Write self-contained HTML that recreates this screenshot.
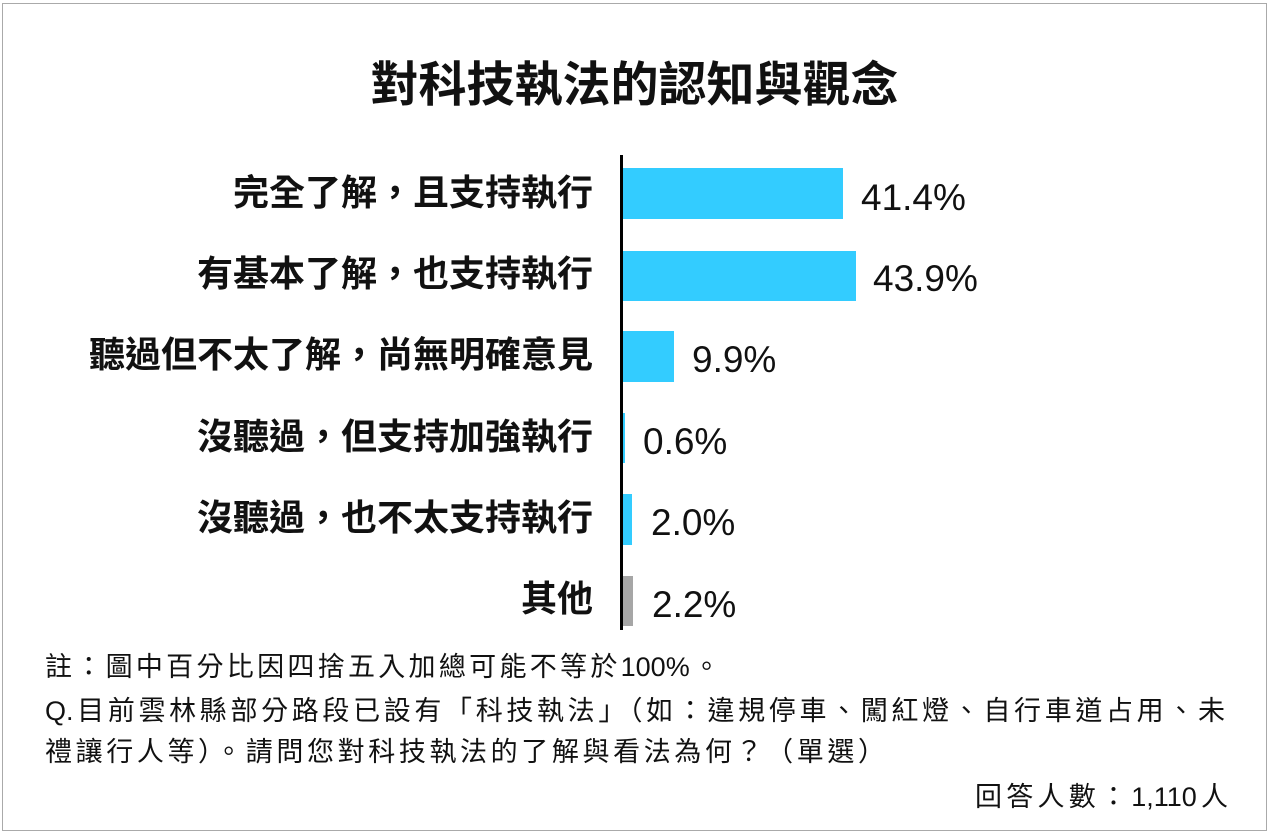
<!DOCTYPE html>
<html><head><meta charset="utf-8"><style>
body{margin:0;width:1269px;height:834px;background:#fff;position:relative;overflow:hidden;font-family:"Liberation Sans","Noto Sans CJK TC",sans-serif;color:#111}
.b{position:absolute}
.lab{position:absolute;right:676px;font-size:36px;font-weight:bold;white-space:nowrap;line-height:1}
.val{position:absolute;font-size:37px;line-height:1}
.bar{position:absolute;left:622px;background:#33ccff}
.n{position:absolute;font-size:27px;white-space:nowrap;line-height:1}
.j{text-align:justify;text-align-last:justify;white-space:normal}
</style></head><body>
<div class="b" style="left:2px;top:3px;width:1263px;height:826px;border:1px solid #aaa"></div>
<div class="b" style="left:0;width:1269px;top:62px;text-align:center;font-size:48px;font-weight:bold;line-height:1">對科技執法的認知與觀念</div>
<div class="b" style="left:620px;top:155px;width:3px;height:475px;background:#000;z-index:2"></div>

<div class="lab" style="top:175px">完全了解，且支持執行</div>
<div class="bar" style="top:168px;height:51px;width:221px"></div>
<div class="val" style="left:861px;top:179px">41.4%</div>

<div class="lab" style="top:256px">有基本了解，也支持執行</div>
<div class="bar" style="top:251px;height:50px;width:234px"></div>
<div class="val" style="left:873px;top:260px">43.9%</div>

<div class="lab" style="top:337px">聽過但不太了解，尚無明確意見</div>
<div class="bar" style="top:331px;height:51px;width:52px"></div>
<div class="val" style="left:692px;top:341px">9.9%</div>

<div class="lab" style="top:419px">沒聽過，但支持加強執行</div>
<div class="bar" style="top:413px;height:50px;width:3px"></div>
<div class="val" style="left:643px;top:423px">0.6%</div>

<div class="lab" style="top:500px">沒聽過，也不太支持執行</div>
<div class="bar" style="top:494px;height:51px;width:10px"></div>
<div class="val" style="left:651px;top:504px">2.0%</div>

<div class="lab" style="top:581px">其他</div>
<div class="bar" style="top:576px;height:50px;width:11px;background:#a6a6a6"></div>
<div class="val" style="left:652px;top:586px">2.2%</div>

<div class="n j" style="left:45px;top:654px;width:675px">註：圖中百分比因四捨五入加總可能不等於100%。</div>
<div class="n j" style="left:45px;top:698px;width:1180px">Q.目前雲林縣部分路段已設有「科技執法」（如：違規停車、闖紅燈、自行車道占用、未</div>
<div class="n j" style="left:45px;top:739px;width:840px">禮讓行人等）。請問您對科技執法的了解與看法為何？（單選）</div>
<div class="n j" style="left:975px;top:784px;width:253px">回答人數：1,110人</div>
</body></html>
